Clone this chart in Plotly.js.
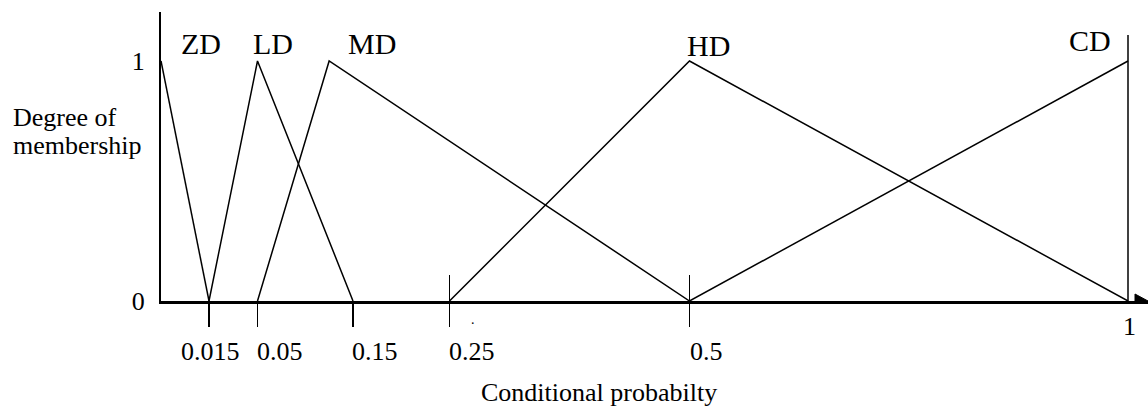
<!DOCTYPE html>
<html><head><meta charset="utf-8">
<script src="https://cdn.plot.ly/plotly-3.0.1.min.js"></script>
<style>html,body{margin:0;padding:0;background:#fff;}</style>
</head><body><div id="chart" style="width:1148px;height:414px;"></div>
<script>
// ---------------- data ----------------
const tickValues = [0.015, 0.05, 0.15, 0.25, 0.5, 1];
const tickLabels = ['0.015', '0.05', '0.15', '0.25', '0.5', '1'];
const yTickValues = [0, 1];
const yTickLabels = ['0', '1'];
const setNames = ['ZD', 'LD', 'MD', 'HD', 'CD'];
const zdX = [0, 0.015],          zdY = [1, 0];
const ldX = [0.015, 0.05, 0.15], ldY = [0, 1, 0];
const mdX = [0.05, 0.125, 0.5],  mdY = [0, 1, 0];
const hdX = [0.25, 0.5, 1],      hdY = [0, 1, 0];
const cdX = [0.5, 1],            cdY = [0, 1];
const peaks = [0, 0.05, 0.125, 0.5, 1];
const xTitle = 'Conditional probabilty';
const yTitleLines = ['Degree of', 'membership'];

// ---------------- layout / style ----------------
// The diagram's x axis is not drawn to scale: breakpoints are spaced by hand.
const axisBreaks = [0, 0.015, 0.05, 0.15, 0.25, 0.5, 1];
const axisSpan   = [0, 48, 96.5, 192, 288.5, 528.5, 967];
function warp(v) {
  for (let i = 1; i < axisBreaks.length; i++) {
    if (v <= axisBreaks[i]) {
      const f = (v - axisBreaks[i-1]) / (axisBreaks[i] - axisBreaks[i-1]);
      return axisSpan[i-1] + f * (axisSpan[i] - axisSpan[i-1]);
    }
  }
  return axisSpan[axisSpan.length - 1];
}
const FONT = 'Liberation Serif, Times New Roman, serif';
const PLOT_W = 987;
const crossTicks = [0.25, 0.5];
const labelDx = [40, 15.5, 43, 18.5, -38];
const labelDy = [18, 18, 18, 16, 21];
const tickAnchor = ['center', 'left', 'left', 'left', 'left', 'center'];
const tickShiftX = [1, -3, -3, -3, -2, 1];
const tickShiftY = [-50, -50, -50, -50, -50, -25];

const line = {color: '#000', width: 1.5};
const series = [[zdX, zdY], [ldX, ldY], [mdX, mdY], [hdX, hdY], [cdX, cdY]];
const traces = series.map((s, i) => ({
  type: 'scatter', mode: 'lines', name: setNames[i],
  x: s[0].map(warp), y: s[1], line: line, cliponaxis: false,
  hoverinfo: 'skip', showlegend: false
}));
traces.push({type: 'scatter', mode: 'lines', x: [0, PLOT_W], y: [0, 0], xaxis: 'x2',
  line: {width: 0}, hoverinfo: 'skip', showlegend: false});

const annotations = [];
setNames.forEach((n, i) => annotations.push({
  x: warp(peaks[i]) + labelDx[i], y: 1, xref: 'x', yref: 'y', text: n,
  showarrow: false, xanchor: 'center', yanchor: 'middle', yshift: labelDy[i],
  font: {family: FONT, size: 30, color: '#000'}
}));
tickValues.forEach((v, i) => annotations.push({
  x: warp(v), y: 0, xref: 'x', yref: 'y', text: tickLabels[i], showarrow: false,
  xanchor: tickAnchor[i], yanchor: 'middle', xshift: tickShiftX[i], yshift: tickShiftY[i],
  font: {family: FONT, size: 26, color: '#000'}
}));
annotations.push({x: 438, y: 0, xref: 'x', yref: 'y', text: xTitle, showarrow: false,
  xanchor: 'center', yanchor: 'middle', yshift: -91, font: {family: FONT, size: 26, color: '#000'}});
yTitleLines.forEach((t, i) => annotations.push({
  x: -148 / PLOT_W, y: 0, xref: 'paper', yref: 'y', text: t, showarrow: false, xanchor: 'left',
  yanchor: 'middle', yshift: 184 - 28 * i, xshift: -2, font: {family: FONT, size: 26, color: '#000'}
}));
annotations.push({x: 312, y: 0, xref: 'x', yref: 'y', text: '.', showarrow: false,
  xanchor: 'center', yanchor: 'middle', yshift: -18, font: {family: FONT, size: 14, color: '#000'}});

const shapes = [
  {type: 'line', xref: 'x', yref: 'y', x0: warp(1), x1: warp(1), y0: 0, y1: 1.108,
   line: {color: '#000', width: 1.5}},
  {type: 'path', xref: 'x', yref: 'y', xsizemode: 'pixel', ysizemode: 'pixel',
   xanchor: PLOT_W, yanchor: 0, path: 'M -13,7 L 0,0 L -13,-7 Z',
   fillcolor: '#000', line: {color: '#000', width: 1}}
];

const layout = {
  width: 1148, height: 414,
  margin: {l: 161, r: 0, t: 12, b: 113},
  paper_bgcolor: '#fff', plot_bgcolor: '#fff',
  font: {family: FONT, size: 26, color: '#000'},
  xaxis: {range: [0, PLOT_W], showgrid: false, zeroline: false, showline: true,
    linecolor: '#000', linewidth: 2.5, ticks: 'outside', ticklen: 23, tickwidth: 1.5,
    tickcolor: '#000', tickvals: tickValues.slice(0, 5).map(warp), showticklabels: false,
    fixedrange: true},
  xaxis2: {range: [0, PLOT_W], overlaying: 'x', anchor: 'y', side: 'bottom', showgrid: false,
    zeroline: false, showline: false, ticks: 'inside', ticklen: 26, tickwidth: 1.5,
    tickcolor: '#000', tickvals: crossTicks.map(warp), showticklabels: false},
  yaxis: {range: [0, 289 / 240], showgrid: false, zeroline: false, showline: true,
    linecolor: '#000', linewidth: 2, ticks: '', tickvals: yTickValues, ticktext: yTickLabels,
    ticklabelstandoff: 9, tickfont: {family: FONT, size: 26, color: '#000'}, fixedrange: true},
  annotations: annotations,
  shapes: shapes
};
Plotly.newPlot('chart', traces, layout, {displayModeBar: false, staticPlot: true});
</script></body></html>
